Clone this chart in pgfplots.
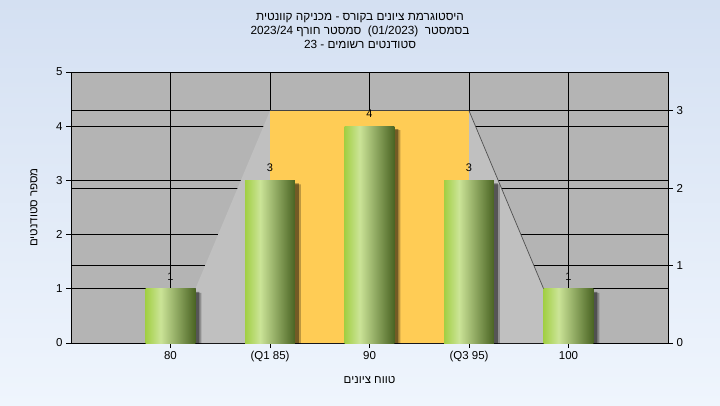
\documentclass[border=0pt]{standalone}
\usepackage{fontspec}
\setmainfont{Liberation Sans}
\newfontfamily\heb[Script=Hebrew]{Liberation Sans}
\usepackage{pgfplots}
\pgfplotsset{compat=1.18}
\TeXXeTstate=1
\definecolor{bgtop}{HTML}{D4E0F2}
\definecolor{bgbot}{HTML}{EFF5FD}
\definecolor{plotgray}{HTML}{B4B4B4}
\definecolor{lightgray2}{HTML}{C0C0C0}
\definecolor{orangebox}{HTML}{FFCC55}
\definecolor{linegray}{HTML}{505050}
\definecolor{gA}{HTML}{A2CF44}
\definecolor{gB}{HTML}{CBE497}
\definecolor{gC}{HTML}{4A6423}
\pgfdeclarehorizontalshading{barshade}{100bp}{color(0bp)=(gA); color(25bp)=(gA); color(40bp)=(gB); color(75bp)=(gC); color(100bp)=(gC)}
\pgfplotstableread{
x y
0 1
1 3
2 4
3 3
4 1
}\datatab
\pgfplotsset{greenbar/.style={ybar, bar width=0.5, bar shift=0pt, draw=none, shading=barshade,
  nodes near coords,
  nodes near coords style={text=black, font=\fontsize{11}{13}\selectfont, anchor=south, inner sep=0pt, yshift=8.5pt}}}
\begin{document}
\begin{tikzpicture}
\useasboundingbox (0,0) rectangle (720pt,405pt);
\shade[top color=bgtop, bottom color=bgbot] (0,0) rectangle (720pt,405pt);
\node[font=\fontsize{11.8}{13}\selectfont, anchor=center] at (360pt,387pt) {\heb\beginR היסטוגרמת ציונים בקורס - מכניקה קוונטית\endR};
\node[font=\fontsize{11.8}{13}\selectfont, anchor=center] at (360pt,374pt) {\heb\beginR בסמסטר\ \ \beginL(01/2023)\endL\ \ סמסטר חורף \beginL2023/24\endL\endR};
\node[font=\fontsize{11.8}{13}\selectfont, anchor=center] at (360pt,361pt) {\heb\beginR סטודנטים רשומים - \beginL23\endL\endR};
\begin{axis}[
  at={(71pt,62pt)}, anchor=south west, scale only axis,
  width=597pt, height=271pt,
  xmin=-1, xmax=5, ymin=0, ymax=5,
  xtick={0,1,2,3,4}, xticklabels={80,{(Q1 85)},90,{(Q3 95)},100},
  ytick={0,1,2,3,4,5},
  extra y ticks={1.4286,2.8571,4.2857}, extra y tick labels={,,},
  extra y tick style={grid=major, major tick length=0pt},
  xmajorgrids, ymajorgrids,
  grid style={black, line width=0.8pt},
  axis background/.style={fill=plotgray},
  tick align=outside, major tick length=5pt,
  tick style={black, line width=0.8pt},
  axis line style={black, line width=0.8pt},
  xtick pos=left, ytick pos=left,
  tick label style={font=\fontsize{11.5}{13}\selectfont},
  /pgf/number format/assume math mode=true,
  xlabel={\heb\beginR טווח ציונים\endR},
  ylabel={\heb\beginR מספר סטודנטים\endR},
  label style={font=\fontsize{11.5}{13}\selectfont},
  xlabel style={at={(axis description cs:0.5,-0.137)}, anchor=center},
  ylabel style={at={(axis description cs:-0.062,0.5)}, anchor=center},
  clip=true,
]
\addplot[fill=lightgray2, draw=none] coordinates {(0.25,0) (0.25,1) (1,4.2857) (3,4.2857) (3.75,1) (3.75,0)};
\addplot[fill=orangebox, draw=none] coordinates {(1,0) (1,4.2857) (3,4.2857) (3,0)};
\addplot[draw=linegray, line width=0.7pt] coordinates {(3,4.2857) (3.75,1)};
\addplot[ybar, bar width=0.5, bar shift=6pt, fill=black, fill opacity=0.25, draw=none, yshift=-4pt] table[x=x,y=y] {\datatab};
\addplot[ybar, bar width=0.5, bar shift=4pt, fill=black, fill opacity=0.4, draw=none, yshift=-3pt] table[x=x,y=y] {\datatab};
\addplot[greenbar] coordinates {(0,1)};
\addplot[greenbar] coordinates {(1,3)};
\addplot[greenbar] coordinates {(2,4)};
\addplot[greenbar] coordinates {(3,3)};
\addplot[greenbar] coordinates {(4,1)};
\end{axis}
\begin{axis}[
  at={(71pt,62pt)}, anchor=south west, scale only axis,
  width=597pt, height=271pt,
  xmin=-1, xmax=5, ymin=0, ymax=3.5,
  ytick={0,1,2,3},
  axis y line*=right, axis x line=none,
  tick align=outside, major tick length=5pt,
  tick style={black, line width=0.8pt},
  axis line style={black, line width=0.8pt},
  tick label style={font=\fontsize{11.5}{13}\selectfont},
  /pgf/number format/assume math mode=true,
]
\addplot[draw=none] coordinates {(0,0)};
\end{axis}
\end{tikzpicture}
\end{document}
